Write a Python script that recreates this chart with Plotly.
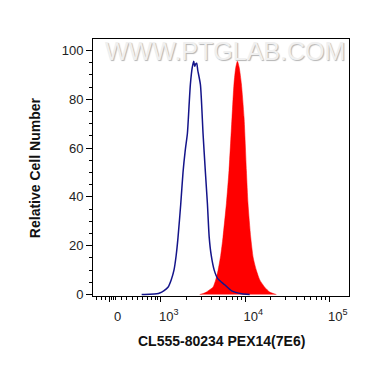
import numpy as np
import plotly.graph_objects as go

# ---- data (x in biexponential display units: 10^3 -> 3, 10^4 -> 4, 10^5 -> 5) ----
control_x = [2.775, 2.870, 2.953, 2.988, 3.036, 3.086, 3.124, 3.157, 3.183, 3.205,
             3.237, 3.264, 3.290, 3.316, 3.335, 3.351, 3.373, 3.391, 3.402, 3.414,
             3.426, 3.438, 3.470, 3.501, 3.529, 3.553, 3.574, 3.598, 3.633, 3.675,
             3.757, 3.840, 3.959, 4.053]
control_y = [0.0, 0.1, 0.3, 0.6, 1.5, 3.0, 6.0, 10.0, 16.0, 23.4,
             37.0, 50.0, 59.0, 66.0, 77.0, 86.0, 93.0, 95.6, 93.5, 94.5,
             94.8, 92.0, 86.0, 66.0, 50.0, 37.0, 23.4, 16.0, 10.0, 6.5,
             4.0, 1.5, 0.3, 0.0]

sample_x = [3.4615, 3.509, 3.541, 3.580, 3.619, 3.651, 3.678, 3.710, 3.737, 3.777,
            3.808, 3.844, 3.867, 3.888, 3.908, 3.929, 3.955, 3.986, 4.014, 4.033,
            4.065, 4.095, 4.133, 4.172, 4.231, 4.290, 4.369]
sample_y = [0.0, 0.5, 1.0, 2.0, 3.0, 6.0, 9.8, 16.0, 23.5, 37.2,
            50.8, 72.7, 86.3, 93.0, 95.6, 93.0, 86.3, 72.7, 50.8, 37.2,
            23.5, 15.0, 9.8, 6.0, 3.0, 1.0, 0.0]

x_tick_vals = [2.396, 3, 4, 5]
x_tick_text = ["0", "10<sup>3</sup>", "10<sup>4</sup>", "10<sup>5</sup>"]
x_low_minor = [2.239, 2.298, 2.349, 2.420, 2.444, 2.467, 2.535, 2.601, 2.665,
               2.724, 2.779, 2.838, 2.890, 2.933, 2.964]
x_title = "CL555-80234 PEX14(7E6)"
y_title = "Relative Cell Number"
watermark = "WWW.PTGLAB.COM"

decade_minor = [d + np.log10(k) for d in (3, 4) for k in range(2, 10)]
x_minor = x_low_minor + decade_minor

FONT = "Liberation Sans, Arial, sans-serif"

fig = go.Figure()
fig.add_trace(go.Scatter(
    x=sample_x, y=sample_y, mode="lines", fill="tozeroy",
    fillcolor="#ff0000", line=dict(color="#ff0000", width=0.5, shape="spline", smoothing=0.6),
    hoverinfo="skip", showlegend=False))
fig.add_trace(go.Scatter(
    x=control_x, y=control_y, mode="lines",
    line=dict(color="#14148a", width=1.5, shape="spline", smoothing=0.6),
    hoverinfo="skip", showlegend=False))

fig.update_layout(
    width=362, height=359,
    margin=dict(l=85, r=21, t=31, b=71),
    paper_bgcolor="white", plot_bgcolor="white",
    font=dict(family=FONT, size=13, color="#222222"),
    xaxis=dict(
        range=[2.199, 5.228], showgrid=False, zeroline=False,
        showline=True, linecolor="black", linewidth=1, mirror=True,
        tickmode="array", tickvals=x_tick_vals, ticktext=x_tick_text,
        ticks="outside", ticklen=5, tickcolor="black", tickwidth=1,
        ticklabelshift=8, ticklabelstandoff=3,
        tickfont=dict(size=13, color="#222222"),
        minor=dict(tickmode="array", tickvals=x_minor, ticks="outside",
                   ticklen=3, tickcolor="black", tickwidth=1, showgrid=False),
    ),
    yaxis=dict(
        range=[-0.6, 104.7], showgrid=False, zeroline=False,
        showline=True, linecolor="black", linewidth=1, mirror=True,
        tickmode="linear", tick0=0, dtick=20,
        ticks="outside", ticklen=6, tickcolor="black", tickwidth=1,
        tickfont=dict(size=13, color="#222222"),
        minor=dict(dtick=5, tick0=0, ticks="outside", ticklen=3,
                   tickcolor="black", tickwidth=1, showgrid=False),
    ),
    annotations=[
        dict(text=watermark, xref="paper", yref="paper", x=0.515, y=0.955,
             xanchor="center", yanchor="middle", showarrow=False,
             font=dict(family=FONT, size=25, color="#f0f0f0",
                       shadow="1px 1px 1px #b4b4b4")),
        dict(text="<b>" + x_title + "</b>", xref="paper", yref="paper",
             x=0.5, y=-0.175, xanchor="center", yanchor="middle", showarrow=False,
             font=dict(family=FONT, size=14, color="#111111")),
        dict(text="<b>" + y_title + "</b>", xref="paper", yref="paper",
             x=-0.228, y=0.5, xanchor="center", yanchor="middle", showarrow=False,
             textangle=-90, font=dict(family=FONT, size=14, color="#111111")),
    ],
)

fig.write_html("out.html")
